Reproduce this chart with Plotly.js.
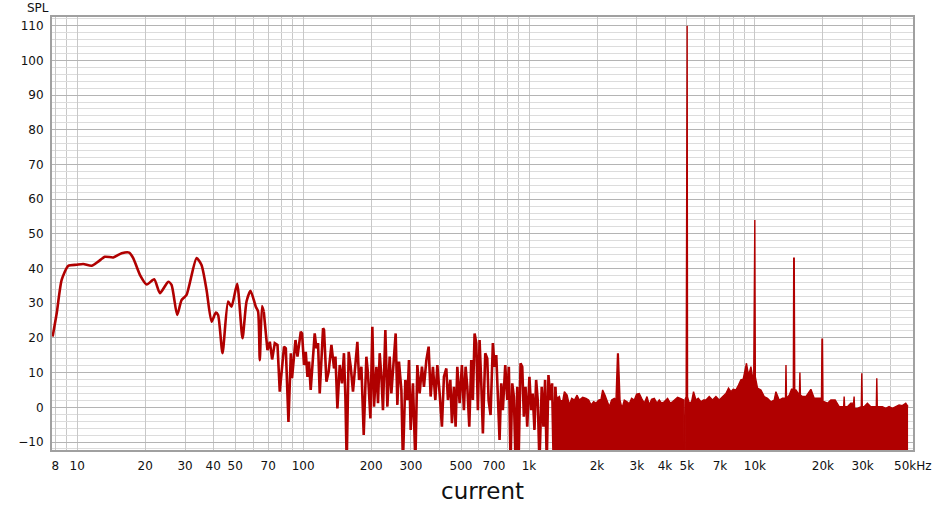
<!DOCTYPE html>
<html>
<head>
<meta charset="utf-8">
<script src="https://cdn.plot.ly/plotly-3.0.1.min.js"></script>
<style>
  html, body { margin: 0; padding: 0; background: #fff; }
  #chart { width: 939px; height: 512px; }
</style>
</head>
<body>
<div id="chart"></div>
<script>
// ---- Data (frequency in Hz, level in dB SPL) ----
// Smooth low-frequency part
const freqLow = [7.78, 8.11, 8.53, 9.13, 9.94, 10.63, 11.58, 12.38, 13.26, 14.43, 15.72, 16.98, 17.69, 18.94, 20.3, 21.91, 23.22, 25.27, 26.15, 27.69, 28.95, 30.47, 33.74, 35.49, 37.36, 39.31, 41.06, 42.03, 43.96, 46.54, 48.18, 51.03, 53.90, 56.15, 58.49, 61.71, 63.17, 64.28, 65.80, 66.95];
const splLow = [20.4, 27.1, 36.7, 40.8, 41.1, 41.3, 40.8, 42.0, 43.4, 43.2, 44.4, 44.6, 43.0, 38.2, 35.4, 36.9, 32.9, 36.2, 35.3, 26.6, 30.9, 32.4, 43.0, 41.0, 33.8, 24.7, 27.3, 26.6, 15.6, 30.5, 29.0, 35.6, 19.9, 30.5, 33.6, 29.0, 27.6, 13.6, 29.2, 27.6];

// Ragged mid-frequency part
const freqMid = [69.5, 71.2, 72.9, 74.9, 77.0, 78.8, 82.3, 83.8, 86.1, 88.2, 89.3, 92.5, 94.4, 97.6, 98.9, 100.9, 102.7, 104.5, 106.2, 108.0, 112.5, 114.5, 116.4, 118.4, 122.5, 123.7, 126.8, 129.7, 133.4, 137.0, 139.0, 141.8, 145.2, 148.6, 151.6, 153.8, 155.9, 159.1, 162.4, 166.2, 170.4, 173.8, 176.8, 181.1, 185.4, 190.5, 193.6, 198.5, 202.5, 205.9, 211.0, 214.5, 218.2, 222.0, 225.6, 231.2, 236.0, 241.6, 245.8, 250.8, 256.8, 261.3, 265.6, 272.2, 276.5, 283.4, 289.3, 294.1, 299.2, 306.3, 313.9, 320.3, 327.9, 335.7, 342.6, 351.1, 359.4, 366.8, 375.5, 384.8, 392.7, 402.0, 411.5, 420.0, 430.4, 437.5, 448.3, 455.7, 465.0, 473.1, 481.4, 492.8, 504.5, 514.8, 523.8, 533.0, 543.9, 555.0, 564.1, 574.1, 584.1, 593.6, 604.0, 614.6, 624.7, 640.1, 653.3, 662.1, 675.6, 691.7, 703.7, 716.0, 727.8, 740.5, 753.4, 765.8, 784.7, 800.9, 814.0, 828.3, 842.8, 856.7, 871.6, 886.9, 898.8, 917.2, 933.2, 948.4, 965.0, 981.8, 1004, 1022, 1038, 1057, 1075, 1093, 1112, 1138, 1158, 1178, 1198, 1219, 1244, 1265, 1286, 1309, 1331, 1353, 1377, 1401, 1424];
const splMid = [16.5, 18.9, 13.8, 18.5, 18.0, 4.5, 17.5, 17.0, -4.2, 15.6, 8.4, 19.4, 14.6, 21.8, 21.3, 12.2, 16.0, 8.8, 13.2, 5.0, 21.3, 17.0, 18.5, 4.0, 22.8, 22.3, 7.4, 10.3, 18.0, 11.2, 14.6, -0.3, 12.2, 6.9, 15.6, 3.1, -16, 16.0, 11.7, 4.5, 12.2, 18.9, 7.9, 11.7, -8.0, 14.6, 9.8, -3.2, 23.2, 0.2, 11.7, 1.2, 15.6, 8.8, -0.8, 22.3, 0.2, 14.6, 4.0, 11.7, 21.3, 0.7, 13.2, 5.0, -16, 7.9, 2.1, 13.6, -6.5, 6.9, -16, 12.2, 4.0, 11.7, 5.9, 13.6, 17.5, 3.1, 11.7, 2.1, 12.2, 4.0, -5.6, 8.8, 11.2, 2.1, 7.9, -4.6, 5.9, -5.6, 11.7, 1.2, 12.2, -0.8, 11.7, 5.9, -5.6, 13.6, 2.1, 21.3, 18.5, -0.8, 19.4, 6.9, -7.5, 15.6, 14.1, 2.1, -2.2, 18.5, 11.7, 15.1, 3.1, -9.4, 6.9, -0.8, 12.2, 2.1, 11.7, -16, 6.9, 3.1, -16, 5.9, -16, 12.7, 11.7, -2.7, 5.9, -5.6, 8.8, -0.8, 4.0, -6.5, 7.9, 2.1, -16, 5.9, -5.6, 7.9, -16, 9.3, 2.1, 6.9, -16, 5.9, -5.6, 2.6, -16, 2.1, -16];

// Dense high-frequency part: upper envelope of the noise floor and its tones
const freqHigh = [1296, 1331, 1363, 1395, 1434, 1474, 1509, 1545, 1588, 1632, 1670, 1728, 1788, 1836, 1882, 1932, 1980, 2033, 2083, 2118, 2170, 2215, 2267, 2321, 2386, 2427, 2465, 2485, 2528, 2580, 2641, 2715, 2779, 2845, 2924, 2994, 3077, 3150, 3238, 3328, 3407, 3487, 3585, 3685, 3772, 3861, 3969, 4105, 4219, 4319, 4426, 4545, 4672, 4782, 4841, 4881, 4920, 4961, 4976, 5012, 5032, 5120, 5241, 5349, 5481, 5611, 5768, 5923, 6069, 6276, 6491, 6720, 6949, 7187, 7440, 7640, 7829, 8014, 8238, 8459, 8668, 8873, 9056, 9177, 9308, 9432, 9601, 9759, 9879, 9929, 9990, 10041, 10268, 10630, 10993, 11369, 11769, 12172, 12385, 12808, 13246, 13657, 13727, 13797, 14187, 14524, 14792, 14853, 14929, 15005, 15189, 15740, 15820, 15901, 16243, 16815, 17693, 18298, 18923, 19710, 19811, 19912, 20014, 20260, 20953, 21691, 22660, 23602, 24709, 24835, 24962, 25674, 26579, 27348, 27488, 27629, 28424, 29576, 29726, 29878, 30428, 31476, 32585, 34460, 34636, 34813, 35454, 36665, 37956, 39259, 40601, 42031, 43467, 44954, 46537, 47638];
const splHigh = [5.9, 2.6, 3.1, 0.2, 4.5, 3.5, 0.7, 2.6, 2.1, 3.5, 2.1, 2.9, 2.6, 2.1, 0.7, 1.6, 1.2, 2.1, 2.3, 5.0, 3.5, 1.6, 0.2, 2.1, 2.6, 2.1, 15.4, 15.4, 2.1, -0.3, 2.1, 1.6, 1.0, 2.6, 2.1, 3.8, 4.0, 2.6, 1.2, 3.1, 0.7, 2.3, 2.6, 1.2, 2.1, 1.2, 1.6, 2.6, 1.2, 1.6, 2.3, 2.9, 2.6, 2.1, 2.1, -40, 2.5, 3.0, 110, 110, 3.0, 1.2, 1.6, 4.5, 2.1, 2.6, 1.6, 2.1, 2.1, 3.1, 2.1, 3.1, 2.1, 3.1, 4.0, 5.5, 4.5, 5.2, 5.0, 6.4, 7.9, 8.1, 11.2, 12.7, 10.3, 9.8, 11.7, 8.8, 8.8, 54, 54, 8.8, 5.5, 5.0, 3.1, 2.6, 1.6, 2.1, 4.5, 2.1, 2.6, 2.6, 12.2, 2.6, 3.5, 5.2, 5.2, 43, 43, 5.0, 5.0, 3.5, 10.0, 3.5, 3.1, 3.1, 5.2, 2.6, 2.6, 2.6, 19.6, 19.6, 1.6, 1.6, 1.2, 2.1, 2.1, 0.2, 0.2, 3.1, 0.2, 0.2, 1.2, 1.2, 3.1, -0.3, -0.3, 0.2, 9.8, 0.2, 0.2, 1.2, 0.2, 0.2, 8.4, 0.2, 0.2, 0.2, -0.3, 0.2, -0.3, 0.2, 0.7, 0.5, 1.2, 0.2];
const dipFloor = -40;   // the dense dips all fall below the axis

// ---- Axis labels ----
const xTickVals = [8, 10, 20, 30, 40, 50, 70, 100, 200, 300, 500, 700, 1000, 2000, 3000, 4000, 5000, 7000, 10000, 20000, 30000, 50000];
const xTickText = ['8', '10', '20', '30', '40', '50', '70', '100', '200', '300', '500', '700', '1k', '2k', '3k', '4k', '5k', '7k', '10k', '20k', '30k', '50kHz'];
const xMinorGrid = [9, 60, 80, 90, 400, 600, 800, 900, 6000, 8000, 9000, 40000];
const xDecades = [10, 100, 1000, 10000];
const yTickVals = [-10, 0, 10, 20, 30, 40, 50, 60, 70, 80, 90, 100, 110];

const RED = '#b00000';
const FONT = 'DejaVu Sans, Verdana, sans-serif';
const xRange = [Math.log10(7.73), Math.log10(50100)];

const traces = [
  { x: freqLow, y: splLow, type: 'scatter', mode: 'lines',
    line: { color: RED, width: 2.6, shape: 'spline', smoothing: 0.6 }, hoverinfo: 'x+y' },
  { x: [freqLow[freqLow.length - 1]].concat(freqMid),
    y: [splLow[splLow.length - 1]].concat(splMid),
    type: 'scatter', mode: 'lines', line: { color: RED, width: 2.6 }, hoverinfo: 'x+y' },
  { x: [freqHigh[0], freqHigh[freqHigh.length - 1]], y: [dipFloor, dipFloor],
    type: 'scatter', mode: 'lines', line: { width: 0, color: RED }, hoverinfo: 'skip' },
  { x: freqHigh, y: splHigh, type: 'scatter', mode: 'lines', fill: 'tonexty',
    fillcolor: RED, line: { color: RED, width: 1.4 }, hoverinfo: 'x+y' }
];

const layout = {
  width: 939, height: 512,
  margin: { l: 52, r: 26, t: 17, b: 62 },
  paper_bgcolor: '#ffffff', plot_bgcolor: '#ffffff',
  showlegend: false,
  font: { family: FONT, size: 12, color: '#111' },
  xaxis: {
    type: 'log', range: xRange,
    tickmode: 'array', tickvals: xTickVals, ticktext: xTickText,
    showgrid: true, gridcolor: '#c8c8c8', gridwidth: 1,
    minor: { tickmode: 'array', tickvals: xMinorGrid, showgrid: true, gridcolor: '#c8c8c8', ticks: '' },
    ticks: 'outside', ticklen: 4, tickcolor: 'rgba(0,0,0,0)',
    showline: true, mirror: true, linecolor: '#a0a0a0', linewidth: 2,
    zeroline: false,
    tickfont: { family: FONT, size: 12, color: '#111' },
    title: { text: 'current', font: { family: FONT, size: 23, color: '#111' }, standoff: 10 }
  },
  xaxis2: {
    type: 'log', range: xRange, overlaying: 'x', anchor: 'y',
    tickmode: 'array', tickvals: xDecades, showticklabels: false, ticks: '',
    showgrid: true, gridcolor: '#808080', gridwidth: 1, showline: false, zeroline: false
  },
  yaxis: {
    range: [-12.3, 112.5],
    tickmode: 'array', tickvals: yTickVals,
    showgrid: true, gridcolor: '#b4b4b4', gridwidth: 1,
    minor: { dtick: 2, tick0: 0, showgrid: true, gridcolor: '#dcdcdc', ticks: '' },
    ticks: 'outside', ticklen: 4, tickcolor: 'rgba(0,0,0,0)',
    showline: true, mirror: true, linecolor: '#a0a0a0', linewidth: 2,
    zeroline: false,
    tickfont: { family: FONT, size: 12, color: '#111' }
  },
  annotations: [{
    text: 'SPL', xref: 'paper', yref: 'paper',
    x: (37.5 - 52) / 861, y: (450 - 7.5) / 433,
    xanchor: 'center', yanchor: 'middle', showarrow: false,
    font: { family: FONT, size: 12, color: '#111' }
  }]
};

Plotly.newPlot('chart', traces, layout, { staticPlot: true, displayModeBar: false });
</script>
</body>
</html>
